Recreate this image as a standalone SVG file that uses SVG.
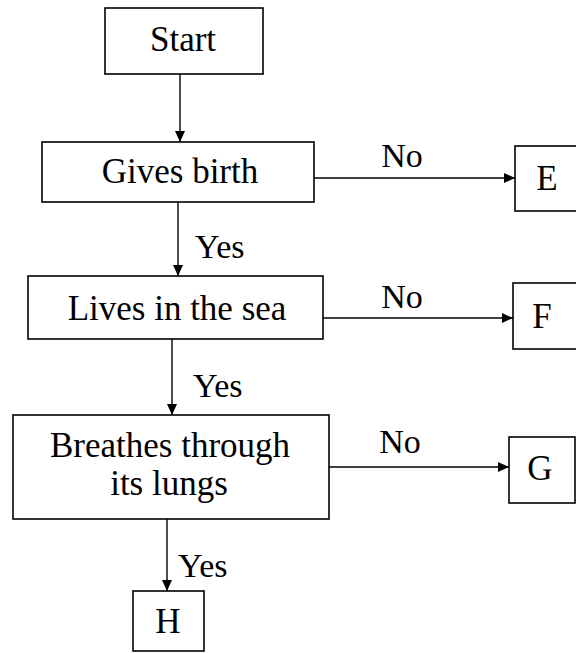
<svg xmlns="http://www.w3.org/2000/svg" width="576" height="653" viewBox="0 0 576 653">
<style>
.box{fill:#fff;stroke:#000;stroke-width:1.6}
text{font-family:'Liberation Serif','Times New Roman','DejaVu Serif',serif;font-size:34px;fill:#000}
.t{text-anchor:middle;font-size:35px}
.n{text-anchor:middle}
.c{stroke:#000;stroke-width:1.4;fill:none;marker-end:url(#ah)}
</style>
<defs>
<marker id="ah" markerUnits="userSpaceOnUse" markerWidth="12" markerHeight="10" refX="11" refY="5" orient="auto">
<path d="M0,0 L11,5 L0,10 Z" fill="#000"/>
</marker>
</defs>
<rect width="576" height="653" fill="#fff"/>
<g id="connectors">
<line class="c" x1="180" y1="74" x2="180" y2="142"/>
<line class="c" x1="314" y1="178" x2="515" y2="178"/>
<line class="c" x1="178" y1="202" x2="178" y2="276"/>
<text x="195" y="258">Yes</text>
<text class="n" x="402" y="167">No</text>
<line class="c" x1="323" y1="318" x2="513" y2="318"/>
<text class="n" x="402" y="308">No</text>
<line class="c" x1="172" y1="339" x2="172" y2="415"/>
<text x="193" y="397">Yes</text>
<line class="c" x1="329" y1="467" x2="509" y2="467"/>
<text class="n" x="400" y="453">No</text>
<line class="c" x1="167" y1="519" x2="167" y2="591"/>
<text x="178" y="577">Yes</text>
</g>
<g id="start">
<rect class="box" x="105" y="8" width="158" height="66"/>
<text class="t" x="183" y="51">Start</text>
</g>
<g id="gives-birth">
<rect class="box" x="42" y="142" width="272" height="60"/>
<text class="t" x="180" y="183">Gives birth</text>
</g>
<g id="E">
<rect class="box" x="515" y="146" width="80" height="65"/>
<text class="t" x="547" y="190">E</text>
</g>
<g id="lives-in-sea">
<rect class="box" x="28" y="276" width="295" height="63"/>
<text class="t" x="177" y="320">Lives in the sea</text>
</g>
<g id="F">
<rect class="box" x="513" y="283" width="80" height="66"/>
<text class="t" x="542" y="328">F</text>
</g>
<g id="breathes">
<rect class="box" x="13" y="415" width="316" height="104"/>
<text class="t" x="170" y="457">Breathes through</text>
<text class="t" x="169" y="495">its lungs</text>
</g>
<g id="G">
<rect class="box" x="509" y="437" width="66" height="66"/>
<text class="t" x="540" y="480">G</text>
</g>
<g id="H">
<rect class="box" x="133" y="591" width="71" height="60"/>
<text class="t" x="168" y="633">H</text>
</g>
</svg>
